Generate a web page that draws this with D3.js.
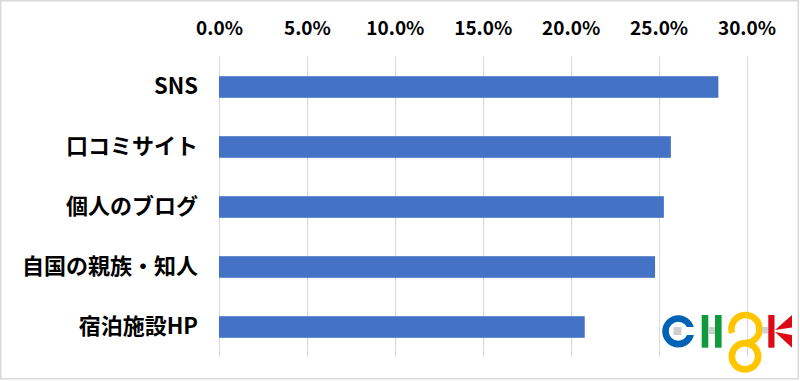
<!DOCTYPE html>
<html><head><meta charset="utf-8">
<script src="https://cdn.jsdelivr.net/npm/d3@7"></script>
<style>
html,body{margin:0;padding:0;background:#fff;}
svg{display:block;}
</style></head>
<body>
<svg id="chart" width="800" height="381"></svg>
<script>
const categories = ["SNS", "口コミサイト", "個人のブログ", "自国の親族・知人", "宿泊施設HP"];
const values = [28.4, 25.7, 25.3, 24.8, 20.8];
const tickValues = [0, 5, 10, 15, 20, 25, 30];
const tickLabels = ["0.0%", "5.0%", "10.0%", "15.0%", "20.0%", "25.0%", "30.0%"];

const svg = d3.select("#chart");
const FONT = "'Noto Sans CJK JP', 'Noto Sans', sans-serif";

// outer border
svg.append("rect").attr("x", 0.75).attr("y", 0.75).attr("width", 797.5).attr("height", 378)
  .attr("fill", "#fff").attr("stroke", "#d9d9d9").attr("stroke-width", 1.5);

const x = d3.scaleLinear().domain([0, 30]).range([219, 746.5]);
const y = d3.scaleBand().domain(categories).range([57, 357]).paddingInner(0.64).paddingOuter(0.32);

// gridlines
svg.append("g").selectAll("line").data(tickValues).join("line")
  .attr("x1", d => Math.round(x(d)) + 0.5).attr("x2", d => Math.round(x(d)) + 0.5)
  .attr("y1", 57).attr("y2", 357)
  .attr("stroke", "#d9d9d9").attr("stroke-width", 1);

// top axis labels
const axis = d3.axisTop(x).tickValues(tickValues)
  .tickFormat((d, i) => tickLabels[i]).tickSize(0).tickPadding(22);
const gx = svg.append("g").attr("transform", "translate(0,57)").call(axis);
gx.select(".domain").remove();
gx.selectAll("text").attr("font-family", FONT).attr("font-weight", 700)
  .attr("font-size", 19).attr("fill", "#000");

// bars
svg.append("g").selectAll("rect").data(values).join("rect")
  .attr("x", x(0)).attr("y", (d, i) => y(categories[i]))
  .attr("width", d => x(d) - x(0)).attr("height", y.bandwidth())
  .attr("fill", "#4472C4");

// category labels
const axisL = d3.axisLeft(y).tickSize(0).tickPadding(21);
const gy = svg.append("g").attr("transform", "translate(219,0)").call(axisL);
gy.select(".domain").remove();
gy.selectAll("text").attr("font-family", FONT).attr("font-weight", 700)
  .attr("font-size", 22).attr("fill", "#000");

// logo (decoration)
const logo = svg.append("g");
const gray = "#cfcfcf";
// blue C
logo.append("circle").attr("cx", 678.3).attr("cy", 331.3).attr("r", 12.8)
  .attr("fill", "none").attr("stroke", "#0061b5").attr("stroke-width", 6.6);
logo.append("rect").attr("x", 682).attr("y", 327).attr("width", 14).attr("height", 8).attr("fill", "#fff");
logo.append("rect").attr("x", 673.5).attr("y", 327).attr("width", 8).attr("height", 8).attr("fill", gray);
// green H
logo.append("rect").attr("x", 701.7).attr("y", 315).attr("width", 6.6).attr("height", 32.7).attr("fill", "#0f9a3c");
logo.append("rect").attr("x", 715).attr("y", 315).attr("width", 6.6).attr("height", 32.7).attr("fill", "#0f9a3c");
logo.append("rect").attr("x", 708.3).attr("y", 327).attr("width", 6.7).attr("height", 7).attr("fill", gray);
// yellow S/8
logo.append("path").attr("d", "M732,333 A14,14 0 1,1 745,343")
  .attr("fill", "none").attr("stroke", "#ffc600").attr("stroke-width", 6.6);
logo.append("circle").attr("cx", 745).attr("cy", 356.3).attr("r", 13.2)
  .attr("fill", "none").attr("stroke", "#ffc600").attr("stroke-width", 6.6);
logo.append("rect").attr("x", 762).attr("y", 327).attr("width", 6.3).attr("height", 6.5).attr("fill", gray);
// red K
logo.append("rect").attr("x", 768.3).attr("y", 315).attr("width", 6.2).attr("height", 32.7).attr("fill", "#dc0a16");
logo.append("path").attr("d", "M775,330 L792,315 L792,327.5 Z M775,332 L792,347.7 L792,335 Z").attr("fill", "#dc0a16");
</script>
</body></html>
